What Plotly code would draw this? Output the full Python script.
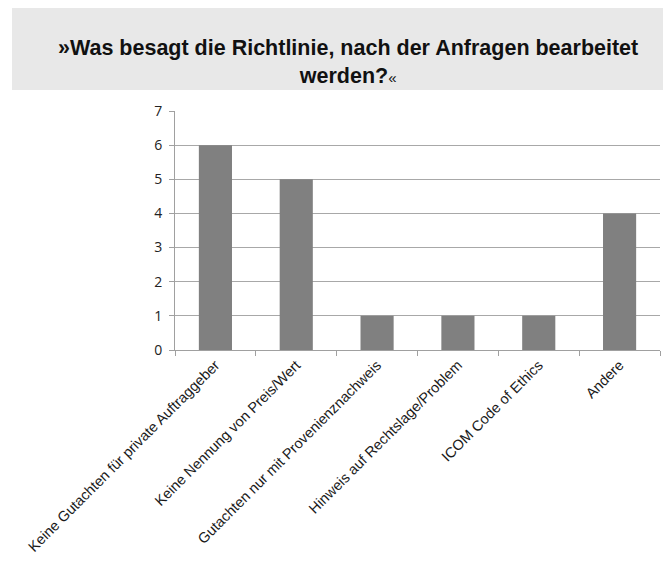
import plotly.graph_objects as go

categories = [
    "Keine Gutachten für private Auftraggeber",
    "Keine Nennung von Preis/Wert",
    "Gutachten nur mit Provenienznachweis",
    "Hinweis auf Rechtslage/Problem",
    "ICOM Code of Ethics",
    "Andere",
]
values = [6, 5, 1, 1, 1, 4]
y_ticks = [0, 1, 2, 3, 4, 5, 6, 7]

W, H = 663, 564
L, R, T, B = 175, 3, 111, 214
pw = W - L - R
ph = H - T - B

def px_x(x):
    return (x - L) / pw

def px_y(y):
    return (H - B - y) / ph

fig = go.Figure()
fig.add_trace(go.Bar(x=categories, y=values, marker=dict(color="#808080", line=dict(width=0))))

fig.add_shape(type="rect", xref="paper", yref="paper",
              x0=px_x(12), x1=px_x(663), y0=px_y(90), y1=px_y(8),
              fillcolor="#e8e8e8", line=dict(width=0), layer="below")

fig.add_annotation(
    xref="paper", yref="paper", x=px_x(348), y=px_y(62), yanchor="middle", xanchor="center",
    text="<b>»Was besagt die Richtlinie, nach der Anfragen bearbeitet</b><br><b>werden?</b><span style='font-size:15px'>«</span>",
    showarrow=False, font=dict(family="Liberation Sans, Arial", size=21.5, color="#111111"),
    align="center",
)

fig.update_layout(
    width=W, height=H,
    margin=dict(l=L, r=R, t=T, b=B, autoexpand=False),
    paper_bgcolor="white", plot_bgcolor="white",
    bargap=0.59,
    showlegend=False,
    font=dict(family="Liberation Sans, Arial", color="#222222"),
)
fig.update_xaxes(
    automargin=False,
    tickangle=-45, tickfont=dict(size=14.5, family="Liberation Sans, Arial", color="#1a1a1a"),
    showline=True, linecolor="#a0a0a0", linewidth=1,
    ticks="outside", tickson="boundaries", ticklen=5, tickcolor="#a0a0a0",
    showgrid=False,
)
fig.update_yaxes(
    automargin=False,
    range=[0, 7], tickvals=y_ticks, tickfont=dict(size=14, family="Open Sans, Liberation Sans", color="#222222"),
    showline=True, linecolor="#a0a0a0", linewidth=1,
    ticks="outside", ticklen=5, tickcolor="#a0a0a0", ticklabelstandoff=4,
    showgrid=True, gridcolor="#a8a8a8", gridwidth=1, zeroline=False,
)

fig.write_html("out.html")
